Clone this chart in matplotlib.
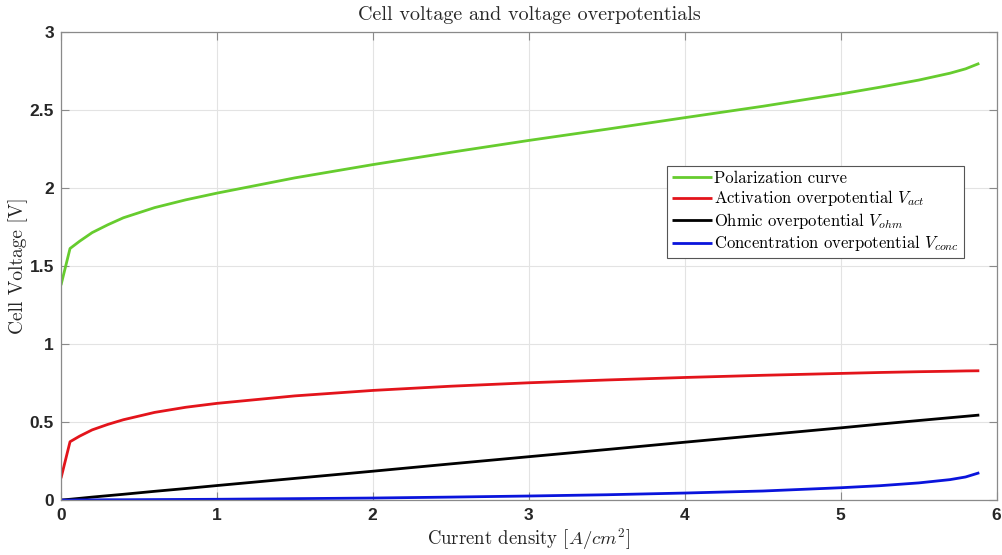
import matplotlib
matplotlib.use("Agg")
import matplotlib.pyplot as plt

# Data
current_density = [0, 0.058, 0.12, 0.2, 0.3, 0.4, 0.6, 0.8, 1, 1.5, 2, 2.5, 3, 3.5,
                   4, 4.5, 5, 5.25, 5.5, 5.7, 5.8, 5.888]
v_polarization = [1.378, 1.613, 1.66, 1.715, 1.765, 1.81, 1.875, 1.925, 1.968, 2.066,
                  2.151, 2.23, 2.306, 2.378, 2.452, 2.525, 2.604, 2.647, 2.693, 2.737,
                  2.765, 2.80]
v_act = [0.14, 0.374, 0.41, 0.45, 0.485, 0.515, 0.562, 0.595, 0.62, 0.668, 0.703, 0.73,
         0.752, 0.77, 0.786, 0.80, 0.812, 0.818, 0.823, 0.826, 0.828, 0.829]
v_ohm = [0, 0.005, 0.011, 0.019, 0.028, 0.037, 0.056, 0.074, 0.093, 0.139, 0.185, 0.232,
         0.278, 0.324, 0.371, 0.417, 0.463, 0.487, 0.51, 0.528, 0.537, 0.545]
v_conc = [0, 0, 0.001, 0.001, 0.002, 0.002, 0.003, 0.004, 0.005, 0.009, 0.013, 0.019,
          0.026, 0.034, 0.045, 0.058, 0.079, 0.092, 0.11, 0.131, 0.148, 0.175]

labels = ["Polarization curve",
          r"Activation overpotential $V_{act}$",
          r"Ohmic overpotential $V_{ohm}$",
          r"Concentration overpotential $V_{conc}$"]
colors = ["#66CC2E", "#E3141B", "#000000", "#0A14DC"]
x_ticks = [0, 1, 2, 3, 4, 5, 6]
y_ticks = [0, 0.5, 1, 1.5, 2, 2.5, 3]
y_ticklabels = ["0", "0.5", "1", "1.5", "2", "2.5", "3"]

plt.rcParams["mathtext.fontset"] = "cm"
plt.rcParams["axes.formatter.use_mathtext"] = True

fig = plt.figure(figsize=(10.03, 5.55), dpi=100)
ax = fig.add_axes([0.0608, 0.099, 0.933, 0.843])

for yv, lab, col in zip([v_polarization, v_act, v_ohm, v_conc], labels, colors):
    ax.plot(current_density, yv, color=col, lw=2.0, label=lab,
            solid_joinstyle="round", solid_capstyle="butt")

ax.set_xlim(0, 6)
ax.set_ylim(0, 3)
ax.set_xticks(x_ticks)
ax.set_yticks(y_ticks)
ax.set_yticklabels(y_ticklabels)
ax.grid(True, color="#e3e3e3", lw=0.8)
ax.set_axisbelow(True)
ax.tick_params(direction="in", length=6, width=0.8, color="#8a8a8a",
               top=True, right=True, labelsize=12.5, labelcolor="#262626", pad=5)
for lbl in ax.get_xticklabels() + ax.get_yticklabels():
    lbl.set_fontweight("bold")
    lbl.set_family("Liberation Sans")
for sp in ax.spines.values():
    sp.set_color("#8a8a8a")
    sp.set_linewidth(0.9)

ax.set_title("Cell voltage and voltage overpotentials", fontfamily="cmr10",
             fontsize=14.5, color="#262626", pad=9)
ax.set_xlabel(r"Current density [$A/cm^2$]", fontfamily="cmr10", fontsize=13.5,
              color="#262626", labelpad=2)
ax.set_ylabel("Cell Voltage [V]", fontfamily="cmr10", fontsize=14,
              color="#262626", labelpad=1)

leg = ax.legend(loc="upper left", bbox_to_anchor=(0.6475, 0.715),
                prop={"family": "cmr10", "size": 12}, frameon=True, fancybox=False,
                edgecolor="#555555", framealpha=1, handlelength=2.4,
                handletextpad=0.12, borderpad=0.3, labelspacing=0.15,
                borderaxespad=0)
leg.get_frame().set_linewidth(0.8)

fig.savefig("out.png", dpi=100, facecolor="white")
